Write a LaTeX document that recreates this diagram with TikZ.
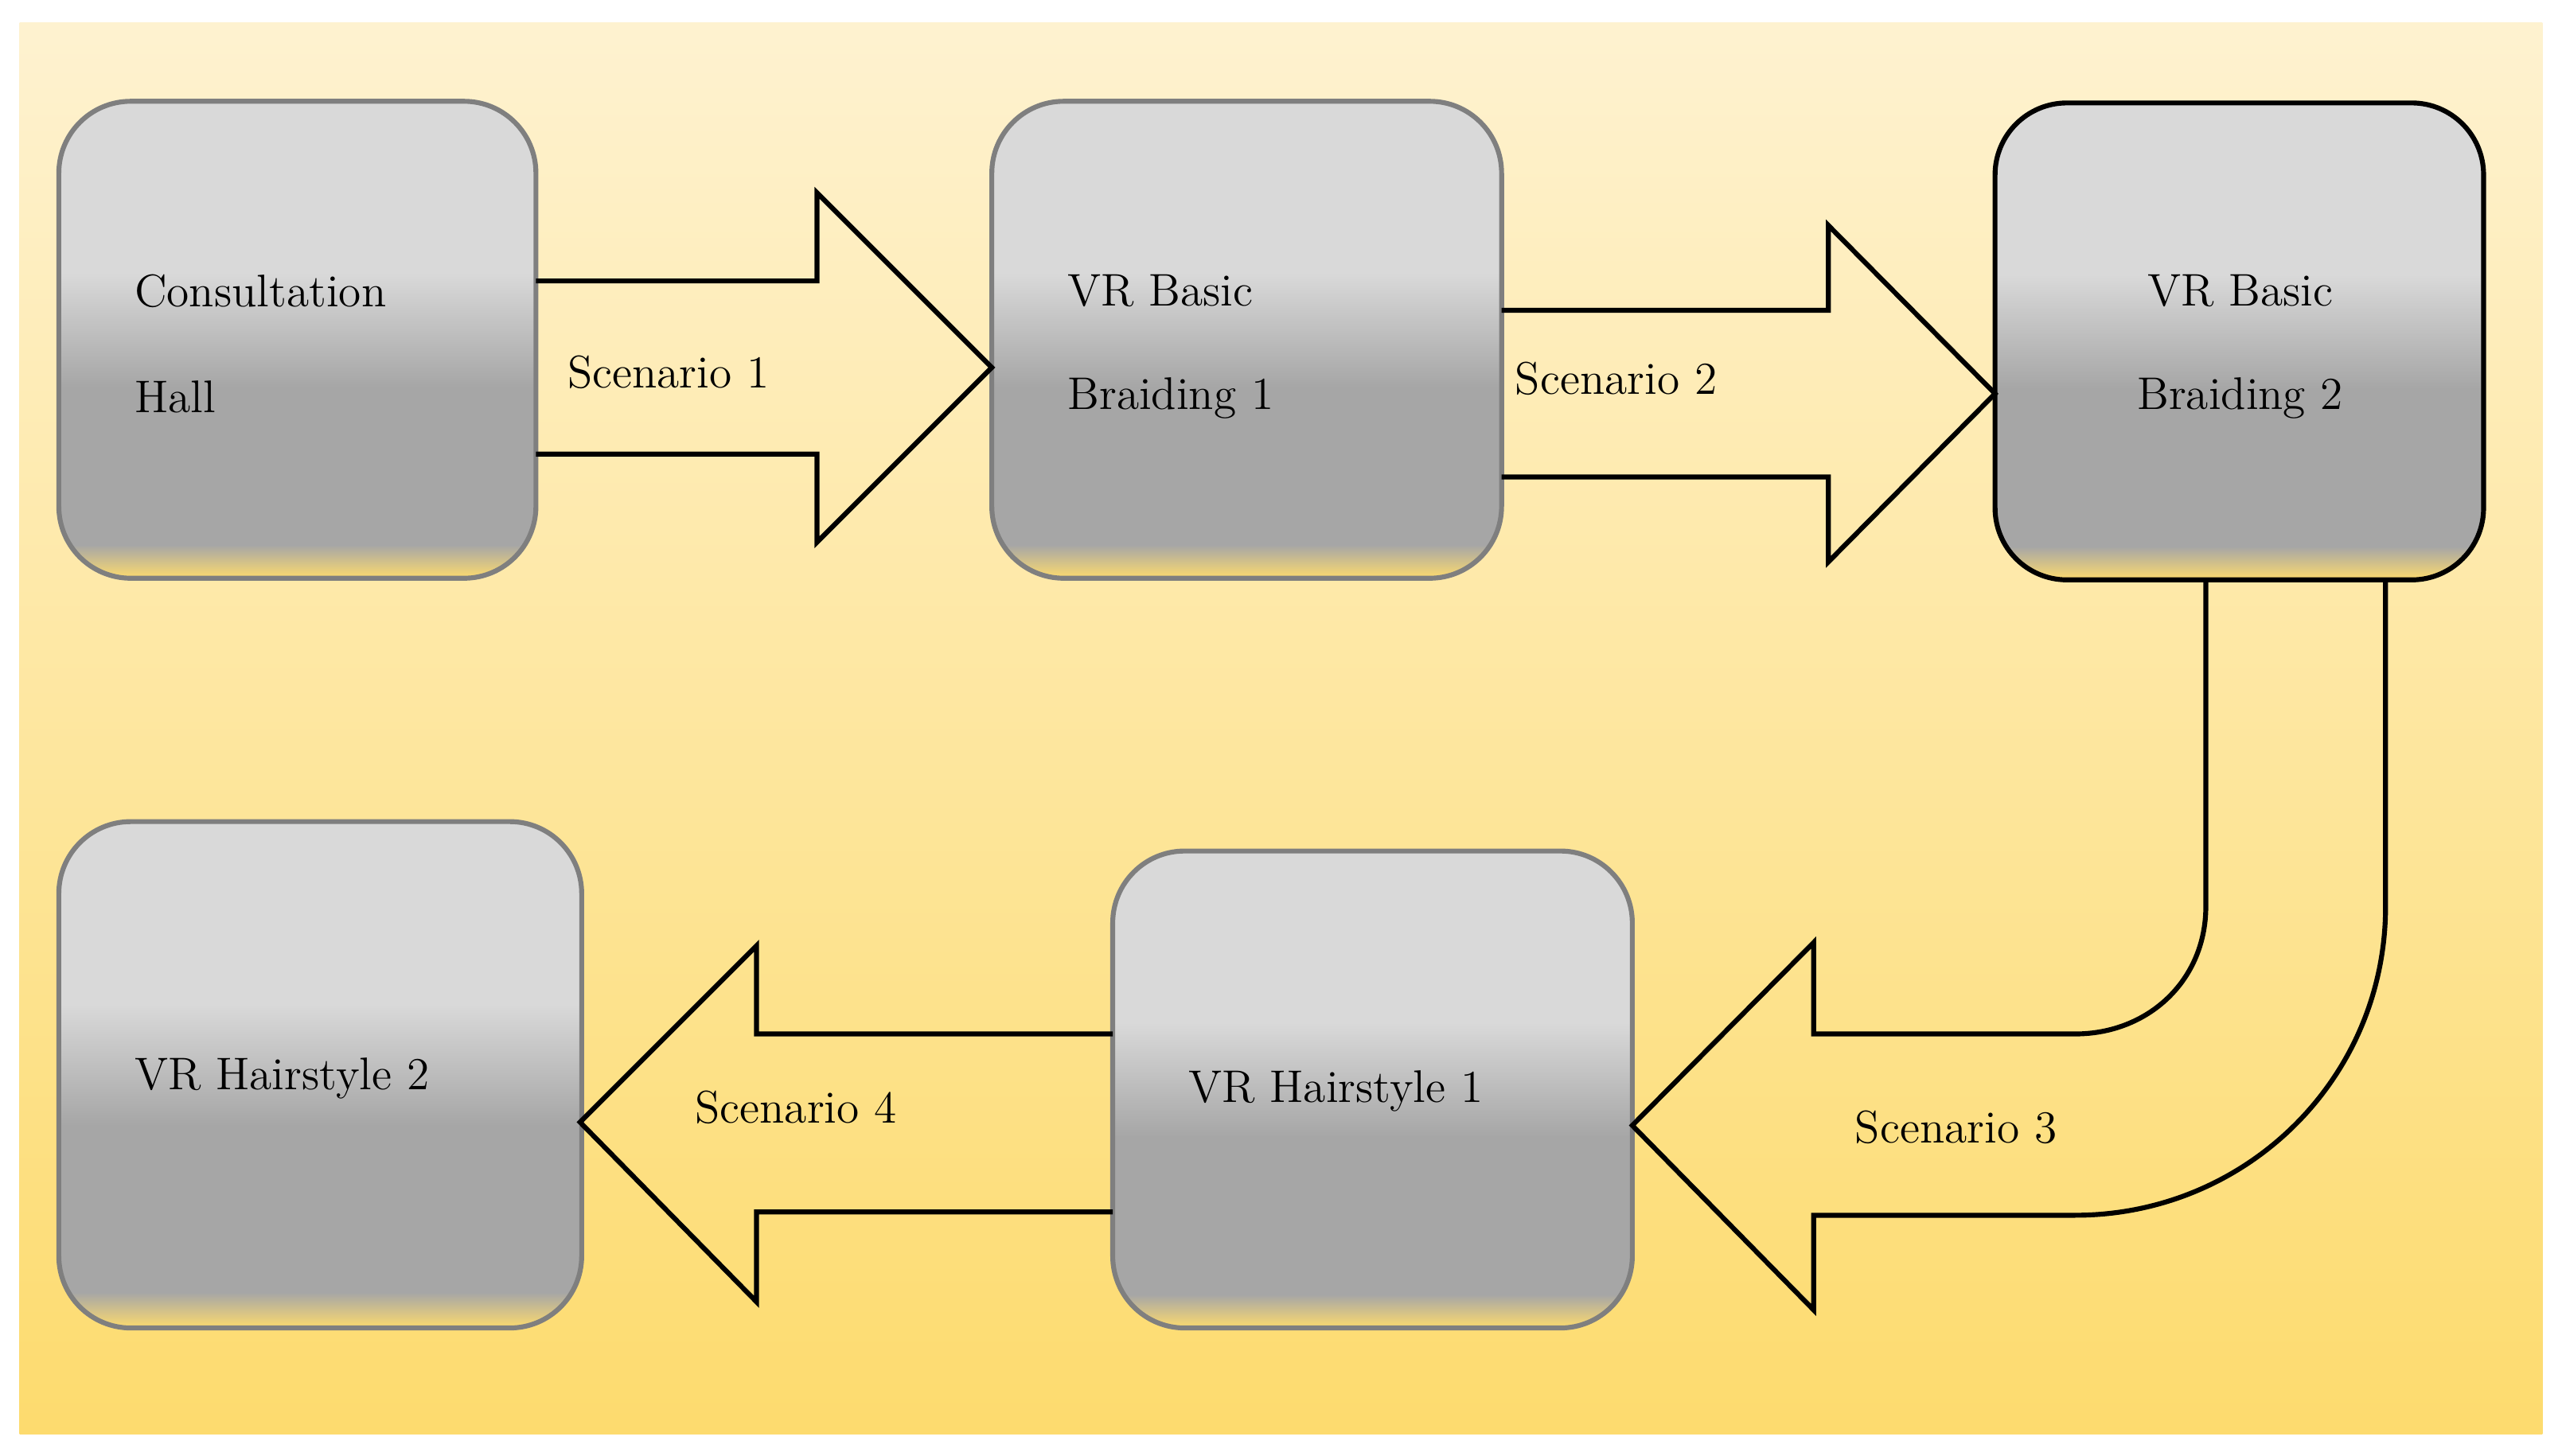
\documentclass[tikz,border=0pt]{standalone}
\usetikzlibrary{calc}
\definecolor{bgtop}{HTML}{FEF2D0}
\definecolor{bgbot}{HTML}{FDDB6E}
\definecolor{yel}{HTML}{FDDB6E}
\definecolor{dk}{HTML}{A6A6A6}
\definecolor{lt}{HTML}{D9D9D9}
\definecolor{bord}{HTML}{7F7F7F}
\pgfdeclareverticalshading{boxsh}{100bp}{color(0bp)=(yel); color(25bp)=(yel); color(28.5bp)=(dk); color(45bp)=(dk); color(57bp)=(lt); color(100bp)=(lt)}
\begin{document}
\begin{tikzpicture}[x=0.5pt,y=-0.5pt,
  box/.style={draw=bord,line width=1.5pt,rounded corners=22pt,shading=boxsh},
  arr/.style={draw=black,line width=1.5pt,line join=miter},
  lab/.style={font=\fontsize{14}{17}\selectfont,inner sep=0pt,anchor=west}]
\useasboundingbox (0,0) rectangle (1568,891);
\fill[white] (0,0) rectangle (1568,891);
\shade[top color=bgtop,bottom color=bgbot] (12,14) rectangle (1556,878);
% boxes
\path[box] (36,62) rectangle (328,354); \coordinate (b1) at (182,208);
\path[box] (607,62) rectangle (919,354); \coordinate (b2) at (763,208);
\path[box,draw=black] (1221,63) rectangle (1520,355); \coordinate (b3) at (1370,209);
\path[box] (36,503) rectangle (356,813); \coordinate (b4) at (196,658);
\path[box] (681,521) rectangle (999,813); \coordinate (b5) at (840,667);
% arrows
\draw[arr] (328,172) -- (500,172) -- (500,118) -- (607,225) -- (500,332) -- (500,278) -- (328,278);
\draw[arr] (919,190) -- (1119,190) -- (1119,138) -- (1221,241) -- (1119,344) -- (1119,292) -- (919,292);
\draw[arr] (681,633) -- (463,633) -- (463,579) -- (355,687) -- (463,797) -- (463,742) -- (681,742);
\draw[arr] (1350,355) -- (1350,555) .. controls (1350,600) and (1315,633) .. (1270,633) -- (1110,633) -- (1110,577) -- (999,689) -- (1110,802) -- (1110,744) -- (1270,744) .. controls (1375,744) and (1460,660) .. (1460,555) -- (1460,355);
% labels
\node[lab] (t1) at (82,178) {Consultation};
\node[lab] (t1b) at (82,243) {Hall};
\node[lab] (t2) at (653,178) {VR Basic};
\node[lab] (t2b) at (653,244) {Braiding 1};
\node[lab,anchor=center] (t3) at (1371,178) {VR Basic};
\node[lab,anchor=center] (t3b) at (1371,244) {Braiding 2};
\node[lab] (t4) at (82,660) {VR Hairstyle 2};
\node[lab] (t5) at (727,668) {VR Hairstyle 1};
\node[lab] (s1) at (347,228) {Scenario 1};
\node[lab] (s2) at (927,232) {Scenario 2};
\node[lab] (s3) at (1135,690) {Scenario 3};
\node[lab] (s4) at (425,678) {Scenario 4};
\end{tikzpicture}
\end{document}
